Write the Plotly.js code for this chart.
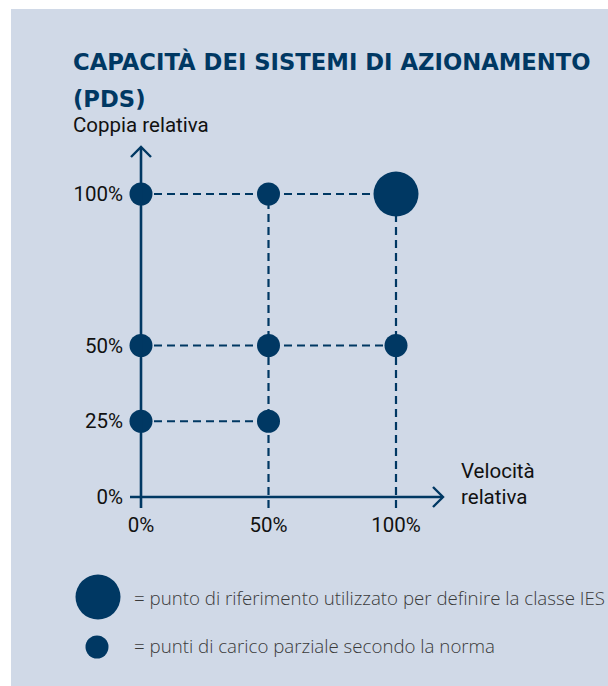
<!DOCTYPE html>
<html>
<head>
<meta charset="utf-8">
<script src="https://cdn.plot.ly/plotly-3.0.1.min.js"></script>
<style>
  html, body { margin: 0; padding: 0; background: #ffffff; width: 608px; height: 686px; overflow: hidden; }
  #chart { position: absolute; left: 11px; top: 9px; width: 597px; height: 677px; }
</style>
</head>
<body>
<div id="chart"></div>
<script>
// ---- data ----
const titleLine1 = "CAPACITÀ DEI SISTEMI DI AZIONAMENTO";
const titleLine2 = "(PDS)";
const yAxisLabel = "Coppia relativa";
const xAxisLabel1 = "Velocità";
const xAxisLabel2 = "relativa";
const tickVals = [0, 0.5, 1];
const xTickText = ["0%", "50%", "100%"];
const yTickVals = [0, 0.25, 0.5, 1];
const yTickText = ["0%", "25%", "50%", "100%"];
// partial-load points (relative speed, relative torque)
const partialSpeed  = [0, 0.5, 0, 0.5, 1, 0, 0.5];
const partialTorque = [1, 1, 0.5, 0.5, 0.5, 0.25, 0.25];
// reference point used for IES class
const refSpeed  = [1];
const refTorque = [1];
const legendRef = "= punto di riferimento utilizzato per definire la classe IES";
const legendPartial = "= punti di carico parziale secondo la norma";

// ---- styling / layout ----
const NAVY = "#003863";
const W = 597, H = 677;
const L = 115, PW = 324, T = 131, PH = 370;
const pxPerX = 255, pxPerY = 303;
const xRange = [-15 / pxPerX, (PW - 15) / pxPerX];
const yBottomPx = 13;
const yRange = [-yBottomPx / pxPerY, (PH - yBottomPx) / pxPerY];
const px = x => (x - L) / PW;            // div x -> paper x
const py = y => (T + PH - y) / PH;        // div y -> paper y

const allX = partialSpeed.concat(refSpeed);
const allY = partialTorque.concat(refTorque);

const shapes = [];
const dash = "8px,5px";
// horizontal guides
const ys = [...new Set(allY)];
ys.forEach(yv => {
  const xmax = Math.max(...allX.filter((_, i) => allY[i] === yv));
  if (xmax > 0) shapes.push({type: "line", xref: "x", yref: "y", x0: 0, x1: xmax, y0: yv, y1: yv,
    line: {color: NAVY, width: 2.2, dash: dash}, layer: "below"});
});
// vertical guides
const xs = [...new Set(allX)];
const belowAxis = -11 / pxPerY;
xs.forEach(xv => {
  if (xv === 0) return;
  const ymax = Math.max(...allY.filter((_, i) => allX[i] === xv));
  shapes.push({type: "line", xref: "x", yref: "y", x0: xv, x1: xv, y0: belowAxis, y1: ymax,
    line: {color: NAVY, width: 2.2, dash: dash}, layer: "below"});
});
// axes with arrows
const yTip = 350 / pxPerY, xTip = 302 / pxPerX;
const aX = 10 / pxPerX, aY = 10 / pxPerY;
shapes.push({type: "line", xref: "x", yref: "y", x0: 0, x1: 0, y0: belowAxis, y1: yTip, line: {color: NAVY, width: 2.6}});
shapes.push({type: "line", xref: "x", yref: "y", x0: -11 / pxPerX, x1: xTip, y0: 0, y1: 0, line: {color: NAVY, width: 2.6}});
shapes.push({type: "path", xref: "x", yref: "y",
  path: `M ${-aX} ${yTip - aY} L 0 ${yTip} L ${aX} ${yTip - aY}`, line: {color: NAVY, width: 2.4}});
shapes.push({type: "path", xref: "x", yref: "y",
  path: `M ${xTip - 10 / pxPerX} ${aY} L ${xTip} 0 L ${xTip - 10 / pxPerX} ${-aY}`, line: {color: NAVY, width: 2.4}});
// legend circles
function circ(cx, cy, d) {
  return {type: "circle", xref: "paper", yref: "paper", xsizemode: "pixel", ysizemode: "pixel",
    xanchor: px(cx), yanchor: py(cy), x0: -d / 2, x1: d / 2, y0: -d / 2, y1: d / 2,
    fillcolor: NAVY, line: {width: 0}};
}
shapes.push(circ(87, 588, 45));
shapes.push(circ(86, 638, 23));

const titleFont = {family: "DejaVu Sans", size: 22.7, color: NAVY, weight: "bold"};
const narrow = "Roboto, Liberation Sans, sans-serif";
const narrowFont = {family: narrow, size: 20.5, color: "#111"};
const legendFont = {family: "Open Sans", size: 18.7, color: "#3a3a3a", weight: 300};
const annotations = [
  {text: "<b>" + titleLine1 + "</b>", x: px(61), y: py(53), xanchor: "left", yanchor: "middle", font: titleFont},
  {text: "<b>" + titleLine2 + "</b>", x: px(61), y: py(90), xanchor: "left", yanchor: "middle", font: titleFont},
  {text: yAxisLabel, x: px(61), y: py(116), xanchor: "left", yanchor: "middle", font: narrowFont},
  {text: xAxisLabel1, x: px(449), y: py(462), xanchor: "left", yanchor: "middle", font: narrowFont},
  {text: xAxisLabel2, x: px(449), y: py(488), xanchor: "left", yanchor: "middle", font: narrowFont},
  {text: legendRef, x: px(122), y: py(588), xanchor: "left", yanchor: "middle", font: legendFont},
  {text: legendPartial, x: px(122), y: py(636), xanchor: "left", yanchor: "middle", font: legendFont}
].map(a => Object.assign({xref: "paper", yref: "paper", showarrow: false, borderpad: 0}, a));

const traces = [
  {type: "scatter", mode: "markers", x: partialSpeed, y: partialTorque,
   marker: {size: 23, color: NAVY}, cliponaxis: false, hoverinfo: "skip"},
  {type: "scatter", mode: "markers", x: refSpeed, y: refTorque,
   marker: {size: 45, color: NAVY}, cliponaxis: false, hoverinfo: "skip"}
];

const layout = {
  width: W, height: H,
  margin: {l: L, r: W - L - PW, t: T, b: H - T - PH, pad: 0},
  paper_bgcolor: "#d0d9e7", plot_bgcolor: "rgba(0,0,0,0)",
  showlegend: false,
  xaxis: {range: xRange, tickvals: tickVals, ticktext: xTickText, showgrid: false, zeroline: false, showline: false,
    ticks: "", tickfont: narrowFont, fixedrange: true},
  yaxis: {range: yRange, tickvals: yTickVals, ticktext: yTickText, showgrid: false, zeroline: false, showline: false,
    ticks: "", tickfont: narrowFont, ticklabelstandoff: 2, fixedrange: true},
  shapes: shapes,
  annotations: annotations
};
Plotly.newPlot("chart", traces, layout, {displayModeBar: false, staticPlot: true});
</script>
</body>
</html>
